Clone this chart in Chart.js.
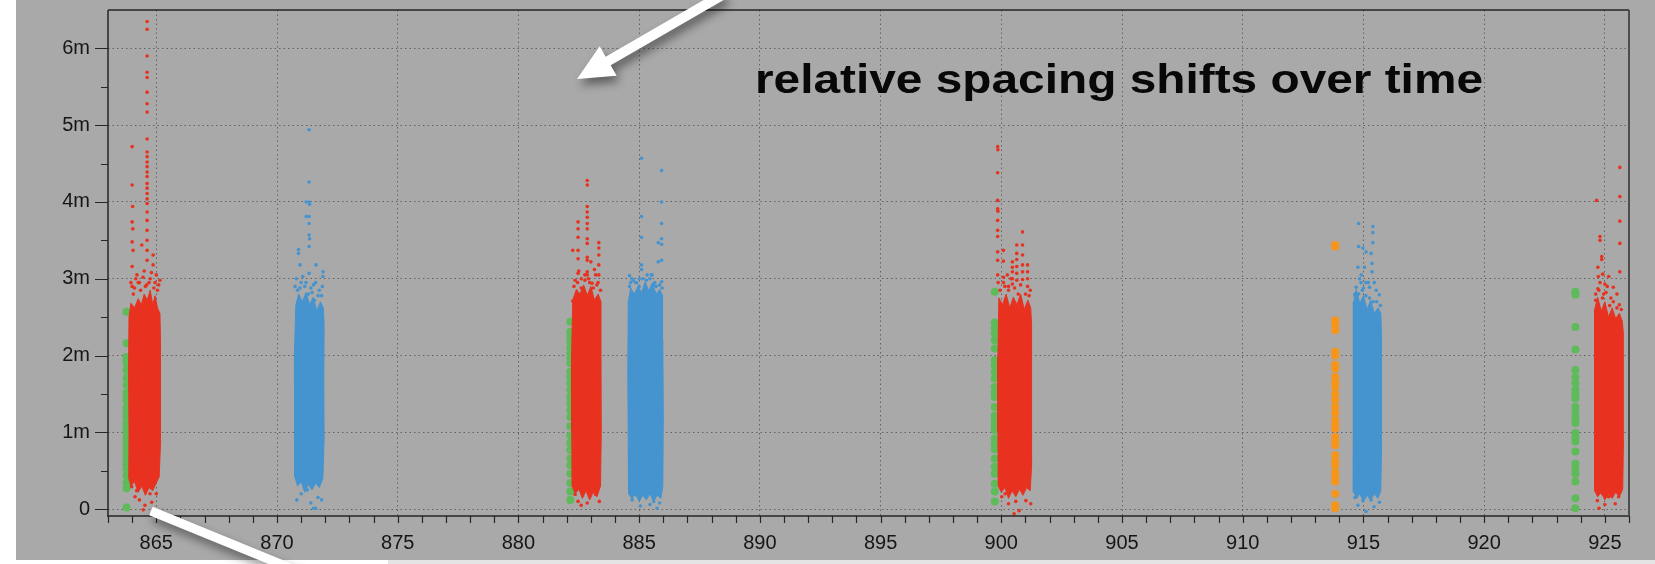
<!DOCTYPE html>
<html>
<head>
<meta charset="utf-8">
<title>relative spacing shifts over time</title>
<script src="https://cdn.jsdelivr.net/npm/chart.js@4.4.1/dist/chart.umd.min.js"></script>
<style>
  html, body { margin: 0; padding: 0; background: #fff; }
  #wrap { width: 1655px; height: 564px; }
</style>
</head>
<body>
<div id="wrap"><canvas id="plot" width="1655" height="564"></canvas></div>
<script>
// axis setup
var xMin = 863, xMax = 926;
var yMin = -0.09, yMax = 6.5;
var titleText = 'relative spacing shifts over time';

// dense cores of each burst, outline [x, y(m)]
var redA_core = [[863.86,0.40],[863.95,0.30],[864.10,0.36],[864.25,0.22],[864.40,0.30],[864.55,0.18],[864.70,0.28],[864.85,0.24],[865.00,0.34],[865.12,0.42],[865.18,0.9],[865.17,1.6],[865.18,2.2],[865.15,2.55],[865.05,2.62],[864.95,2.78],[864.85,2.66],[864.75,2.85],[864.62,2.72],[864.50,2.80],[864.38,2.66],[864.25,2.74],[864.10,2.62],[863.95,2.68],[863.87,2.5],[863.85,1.8],[863.87,1.0]];
var blueA_core = [[870.74,0.42],[870.85,0.30],[871.0,0.36],[871.15,0.22],[871.3,0.32],[871.45,0.25],[871.6,0.34],[871.75,0.28],[871.9,0.40],[871.95,0.9],[871.94,1.7],[871.95,2.4],[871.92,2.62],[871.8,2.7],[871.65,2.58],[871.5,2.76],[871.35,2.66],[871.2,2.82],[871.05,2.7],[870.9,2.8],[870.78,2.66],[870.72,2.0],[870.73,1.0]];
var redB_core = [[882.22,0.30],[882.35,0.20],[882.5,0.26],[882.65,0.14],[882.8,0.24],[882.95,0.12],[883.1,0.22],[883.25,0.16],[883.4,0.30],[883.43,1.0],[883.42,2.0],[883.42,2.7],[883.3,2.8],[883.15,2.72],[883.0,2.9],[882.85,2.78],[882.7,2.92],[882.55,2.8],[882.4,2.86],[882.25,2.72],[882.2,2.0],[882.21,1.0]];
var blueB_core = [[884.56,0.20],[884.7,0.14],[884.85,0.20],[885.0,0.10],[885.15,0.18],[885.3,0.12],[885.45,0.2],[885.6,0.1],[885.75,0.18],[885.9,0.14],[885.98,0.3],[886.0,1.2],[885.98,2.2],[885.97,2.78],[885.85,2.86],[885.7,2.8],[885.55,2.95],[885.4,2.84],[885.25,2.96],[885.1,2.82],[884.95,2.9],[884.8,2.8],[884.65,2.88],[884.55,2.7],[884.53,1.8],[884.55,0.8]];
var redC_core = [[899.87,0.30],[900.0,0.22],[900.15,0.28],[900.3,0.14],[900.45,0.24],[900.6,0.16],[900.75,0.26],[900.9,0.18],[901.05,0.28],[901.2,0.24],[901.26,0.6],[901.25,1.5],[901.26,2.4],[901.22,2.62],[901.1,2.72],[900.95,2.6],[900.8,2.8],[900.65,2.66],[900.5,2.76],[900.35,2.62],[900.2,2.8],[900.05,2.66],[899.9,2.75],[899.86,2.0],[899.86,1.0]];
var blueC_core = [[914.6,0.22],[914.72,0.14],[914.85,0.2],[915.0,0.1],[915.15,0.18],[915.3,0.12],[915.45,0.2],[915.6,0.14],[915.72,0.24],[915.75,0.8],[915.74,1.6],[915.75,2.3],[915.72,2.55],[915.6,2.62],[915.45,2.55],[915.3,2.72],[915.15,2.6],[915.0,2.78],[914.85,2.68],[914.7,2.86],[914.6,2.7],[914.57,2.0],[914.58,1.0]];
var redD_core = [[924.58,0.24],[924.7,0.16],[924.85,0.22],[925.0,0.12],[925.15,0.2],[925.3,0.14],[925.45,0.22],[925.6,0.16],[925.74,0.26],[925.77,0.9],[925.76,1.6],[925.77,2.3],[925.72,2.45],[925.6,2.55],[925.45,2.48],[925.3,2.62],[925.15,2.5],[925.0,2.7],[924.85,2.58],[924.7,2.76],[924.58,2.6],[924.57,1.8],[924.58,0.9]];

// sparse points around the cores [x, y(m)]
var redA_pts = [[864.62,6.35],[864.62,6.25],[864.62,5.90],[864.62,5.69],[864.62,5.62],[864.62,5.43],[864.62,5.28],[864.62,5.17],[864.62,4.82],[864.62,4.65],[864.62,4.59],[864.62,4.52],[864.62,4.46],[864.62,4.39],[864.62,4.33],[864.62,4.24],[864.62,4.18],[864.62,4.11],[864.62,4.04],[864.62,3.98],[864.62,3.87],[864.62,3.76],[864.62,3.63],[864.62,3.50],[864.62,3.37],[864.62,3.24],
  [864.0,4.72],[864.0,4.22],[864.02,3.94],[864.0,3.74],[864.03,3.65],[864.0,3.48],[864.04,3.37],[864.0,3.16],
  [864.4,3.44],[864.87,3.31],[864.87,3.18],[865.15,2.98],[864.2,3.05],[864.3,2.95],[864.5,3.1],[864.75,3.0],[864.95,2.95],[865.05,2.85],[863.95,2.95],[864.1,2.88],[864.6,2.92],
  [864.0,2.9],[864.15,3.0],[864.35,2.85],[864.45,3.02],[864.55,2.9],[864.7,2.95],[864.8,3.08],[864.9,2.88],[865.1,2.92],[864.25,2.95],[865.0,3.05],[864.05,2.8],
  [863.98,0.29],[864.12,0.16],[864.46,-0.01],[864.53,0.05],[864.81,0.09],[864.19,0.24],[864.74,0.20],[864.3,0.12],[865.0,0.2]];
var blueA_pts = [[871.33,4.94],[871.33,4.26],[871.33,4.0],[871.35,3.97],[871.33,3.81],[871.33,3.72],[871.33,3.57],[871.35,3.52],[871.33,3.42],
  [871.21,4.0],[871.21,3.81],[870.89,3.38],[870.89,3.33],[870.95,3.18],[871.62,3.18],[871.91,3.09],[871.9,3.03],[871.33,3.07],[871.07,3.03],[871.51,2.92],[870.75,2.9],[870.8,3.0],[871.75,2.85],[871.2,2.95],[871.4,2.88],[871.85,2.78],
  [870.85,2.85],[871.0,2.95],[871.15,2.9],[871.3,2.8],[871.45,2.82],[871.6,2.95],[871.7,2.78],[871.88,2.9],[870.95,2.88],[871.55,2.72],
  [870.82,0.12],[871.51,0.01],[871.6,0.01],[871.0,0.2],[871.7,0.15],[871.25,0.25],[871.85,0.12],[871.4,0.08]];
var redB_pts = [[882.85,4.28],[882.85,4.22],[882.85,3.94],[882.85,3.87],[882.85,3.80],[882.85,3.72],[882.85,3.65],[882.85,3.52],[882.85,3.46],[882.85,3.28],[882.85,3.24],[882.85,3.09],[882.85,3.05],
  [882.47,3.74],[882.47,3.65],[882.47,3.54],[882.47,3.37],[882.47,3.26],[882.47,3.07],
  [883.33,3.47],[883.33,3.40],[883.33,3.31],[883.33,3.18],[883.33,3.05],
  [882.25,3.37],[883.0,3.22],[883.15,3.12],[882.25,2.71],[883.05,2.94],[882.6,3.0],[882.35,2.98],[882.75,3.05],[883.3,2.95],[882.9,3.0],
  [882.3,2.9],[882.45,2.95],[882.6,2.88],[882.75,2.98],[882.95,2.95],[883.1,2.88],[883.25,2.92],[883.4,2.85],[882.5,3.1],[883.2,3.05],
  [882.47,0.10],[882.85,0.08],[883.2,0.19],[882.35,0.19],[883.05,0.24],[882.6,0.05],[883.35,0.1]];
var blueB_pts = [[885.1,4.57],[885.1,3.81],[885.1,3.54],[885.1,3.18],[885.1,3.12],
  [885.93,4.41],[885.93,4.0],[885.93,3.72],[885.93,3.52],[885.93,3.45],[885.93,3.24],[885.93,2.96],
  [885.79,3.47],[885.79,3.22],[884.6,3.04],[884.75,2.98],[885.33,3.05],[885.54,3.05],[885.6,2.92],[885.25,2.9],[884.9,2.95],[885.0,3.0],[885.45,3.0],[885.7,2.9],[884.65,2.95],
  [884.6,2.9],[884.7,3.0],[884.85,2.95],[885.0,2.9],[885.15,3.0],[885.3,2.98],[885.5,3.05],[885.65,2.95],[885.85,2.92],[885.95,2.88],
  [884.71,0.12],[885.6,0.1],[885.74,0.01],[885.3,0.16],[884.9,0.18],[885.05,0.04],[885.85,0.08],[885.45,0.06]];
var redC_pts = [[899.85,4.72],[899.86,4.68],[899.85,4.38],[899.85,4.02],[899.85,3.91],[899.86,3.88],[899.85,3.76],[899.85,3.63],[899.85,3.55],[899.85,3.35],[899.85,3.24],[899.85,3.05],[899.87,2.95],
  [900.09,3.37],[900.09,3.23],[900.09,3.02],[900.09,2.95],
  [900.46,3.22],[900.46,3.15],[900.46,3.09],[900.46,3.0],[900.46,2.93],
  [900.64,3.44],[900.64,3.33],[900.64,3.25],[900.64,3.16],[900.64,3.07],[900.64,2.98],
  [900.88,3.61],[900.88,3.44],[900.88,3.31],[900.88,3.18],[900.88,3.09],[900.88,2.99],
  [901.09,3.18],[901.09,3.09],[901.09,3.0],[901.09,2.9],[901.2,2.85],[900.3,2.9],
  [899.95,2.85],[900.15,2.9],[900.3,2.85],[900.55,2.88],[900.7,2.8],[900.8,2.92],[901.0,2.8],[901.15,2.78],[900.4,3.0],[900.25,3.05],
  [900.02,0.16],[900.3,0.07],[900.53,-0.06],[900.74,-0.02],[901.02,0.11],[900.16,0.2],[901.22,0.07],[900.6,0.1]];
var blueC_pts = [[914.80,3.72],[915.39,3.68],[915.39,3.6],[915.39,3.47],[914.80,3.42],[914.98,3.40],[915.11,3.35],[915.32,3.33],[914.77,3.15],[915.04,3.15],[915.36,3.2],[915.36,3.09],[914.91,3.05],[915.53,2.85],[915.66,2.79],[915.25,2.89],[914.84,3.0],[914.70,2.89],[915.1,2.95],[915.45,2.95],[914.65,2.8],[915.0,2.88],
  [914.65,2.78],[914.8,2.8],[914.95,2.85],[915.1,2.78],[915.25,2.75],[915.4,2.7],[915.55,2.7],[915.7,2.65],[915.2,2.95],[914.9,2.95],
  [914.77,0.05],[915.11,-0.03],[915.44,0.03],[915.66,0.09],[914.98,0.11],[915.32,0.12],[914.65,0.15]];
var redD_pts = [[925.62,4.45],[925.62,4.07],[925.62,3.75],[925.62,3.46],[925.62,3.09],
  [924.66,4.02],[924.8,3.55],[924.8,3.5],[924.87,3.29],[924.87,3.25],[924.71,3.15],[924.73,3.03],[924.91,3.06],[925.16,3.03],[925.0,2.93],[925.35,2.89],[924.71,2.87],[925.5,2.8],[925.6,2.66],[924.95,2.8],[925.25,2.75],[924.62,2.72],
  [924.62,2.8],[924.75,2.85],[924.9,2.75],[925.05,2.82],[925.2,2.65],[925.35,2.7],[925.5,2.62],[925.68,2.6],[925.1,2.9],[924.8,2.95],
  [924.69,0.11],[924.76,0.01],[925.16,0.16],[925.43,0.07],[924.91,0.2],[925.57,0.16],[925.0,0.06]];

// single-column series: x position and y values (m)
var greenA_x = 863.77;
var greenA_y = [2.57,2.16,1.98,1.94,1.90,1.81,1.71,1.62,1.52,1.46,1.42,1.33,1.26,1.20,1.12,1.06,1.03,1.00,0.94,0.88,0.82,0.76,0.70,0.64,0.58,0.53,0.44,0.35,0.27,0.02];
var greenB_x = 882.15;
var greenB_y = [2.44,2.31,2.25,2.18,2.10,2.03,1.96,1.90,1.79,1.72,1.64,1.55,1.46,1.38,1.29,1.20,1.08,0.96,0.86,0.77,0.66,0.57,0.46,0.34,0.23,0.12];
var greenC_x = 899.73;
var greenC_y = [2.83,2.43,2.36,2.29,2.20,2.09,1.94,1.87,1.79,1.70,1.59,1.52,1.46,1.33,1.22,1.15,1.09,1.03,0.92,0.85,0.78,0.66,0.55,0.46,0.33,0.23,0.10];
var greenD_x = 923.78;
var greenD_y = [2.83,2.79,2.37,2.08,1.81,1.72,1.64,1.55,1.49,1.44,1.33,1.25,1.18,1.12,0.99,0.93,0.88,0.75,0.59,0.53,0.46,0.36,0.14,0.01];
var orange_x = 913.83;
var orange_y = [3.44,3.42,2.46,2.40,2.33,2.05,2.0,1.88,1.83,1.72,1.65,1.59,1.5,1.42,1.33,1.25,1.16,1.1,1.05,0.94,0.88,0.83,0.70,0.62,0.57,0.48,0.42,0.36,0.20,0.05,0.01];

var RED = '#e8321f', BLUE = '#4594d0', GREEN = '#5dbb5a', ORANGE = '#f7951a';
var BG = '#a9a9a9', GRID = '#626262', AXIS = '#262626', TEXT = '#161616';

function pts(list) {
    return list.map(function (p) { return {x: p[0], y: p[1]}; });
}
function column(x, ys) {
    return ys.map(function (y) { return {x: x, y: y}; });
}
function shape(list) {
    // close the outline
    return pts(list.concat([list[0]]));
}

function coreSet(list, color) {
    return {data: shape(list), showLine: true, fill: 'shape', tension: 0,
        backgroundColor: color, borderColor: color, borderWidth: 1, pointRadius: 0};
}
function dotSet(data, color, r) {
    return {data: data, backgroundColor: color, borderColor: color, borderWidth: 0,
        pointRadius: r, pointHoverRadius: r};
}

var datasets = [
    coreSet(redA_core, RED), dotSet(pts(redA_pts), RED, 1.8),
    coreSet(blueA_core, BLUE), dotSet(pts(blueA_pts), BLUE, 1.8),
    coreSet(redB_core, RED), dotSet(pts(redB_pts), RED, 1.8),
    coreSet(blueB_core, BLUE), dotSet(pts(blueB_pts), BLUE, 1.8),
    coreSet(redC_core, RED), dotSet(pts(redC_pts), RED, 1.8),
    coreSet(blueC_core, BLUE), dotSet(pts(blueC_pts), BLUE, 1.8),
    coreSet(redD_core, RED), dotSet(pts(redD_pts), RED, 1.8),
    dotSet(column(greenA_x, greenA_y), GREEN, 4),
    dotSet(column(greenB_x, greenB_y), GREEN, 4),
    dotSet(column(greenC_x, greenC_y), GREEN, 4),
    dotSet(column(greenD_x, greenD_y), GREEN, 4),
    dotSet(column(orange_x, orange_y), ORANGE, 4)
];

// white arrow drawn as one polygon, with a soft shadow
function arrow(ctx, tipX, tipY, tailX, tailY, shaftW, headLen, headW) {
    var dx = tailX - tipX, dy = tailY - tipY;
    var len = Math.sqrt(dx * dx + dy * dy);
    var ux = dx / len, uy = dy / len;
    var nx = -uy, ny = ux;
    var bx = tipX + ux * headLen, by = tipY + uy * headLen;
    ctx.beginPath();
    if (headLen > 0) {
        ctx.moveTo(tailX + nx * shaftW / 2, tailY + ny * shaftW / 2);
        ctx.lineTo(bx + nx * shaftW / 2, by + ny * shaftW / 2);
        ctx.lineTo(bx + nx * headW / 2, by + ny * headW / 2);
        ctx.lineTo(tipX, tipY);
        ctx.lineTo(bx - nx * headW / 2, by - ny * headW / 2);
        ctx.lineTo(bx - nx * shaftW / 2, by - ny * shaftW / 2);
        ctx.lineTo(tailX - nx * shaftW / 2, tailY - ny * shaftW / 2);
    } else {
        ctx.moveTo(tailX + nx * shaftW / 2, tailY + ny * shaftW / 2);
        ctx.lineTo(tipX + nx * shaftW / 2, tipY + ny * shaftW / 2);
        ctx.lineTo(tipX - nx * shaftW / 2, tipY - ny * shaftW / 2);
        ctx.lineTo(tailX - nx * shaftW / 2, tailY - ny * shaftW / 2);
    }
    ctx.closePath();
    ctx.save();
    ctx.shadowColor = 'rgba(0,0,0,0.45)';
    ctx.shadowBlur = 10;
    ctx.shadowOffsetX = 3;
    ctx.shadowOffsetY = 6;
    ctx.fillStyle = '#ffffff';
    ctx.fill();
    ctx.restore();
}

var backdrop = {
    id: 'backdrop',
    beforeDraw: function (chart) {
        var ctx = chart.ctx;
        ctx.save();
        ctx.fillStyle = '#ffffff';
        ctx.fillRect(0, 0, chart.width, chart.height);
        ctx.fillStyle = BG;
        ctx.fillRect(16, 0, chart.width - 16, 560);
        ctx.fillStyle = '#e4e4e4';
        ctx.fillRect(388, 560, chart.width - 388, 4);
        ctx.restore();
    }
};

var frame = {
    id: 'frame',
    afterDraw: function (chart) {
        var ctx = chart.ctx;
        var a = chart.chartArea;
        var xs = chart.scales.x, ys = chart.scales.y;
        ctx.save();
        ctx.lineWidth = 1.5;
        ctx.strokeStyle = AXIS;
        ctx.beginPath();
        ctx.moveTo(a.left, a.top); ctx.lineTo(a.right, a.top);
        ctx.moveTo(a.left, a.top); ctx.lineTo(a.left, a.bottom);
        ctx.moveTo(a.left - 1, a.bottom); ctx.lineTo(a.right, a.bottom);
        ctx.stroke();
        ctx.strokeStyle = '#4d4d4d';
        ctx.lineWidth = 2;
        ctx.beginPath();
        ctx.moveTo(a.right, a.top); ctx.lineTo(a.right, a.bottom);
        ctx.stroke();

        // tick marks, major and minor
        ctx.strokeStyle = AXIS;
        ctx.lineWidth = 1.2;
        ctx.beginPath();
        for (var v = 0; v <= 6.4; v += 0.5) {
            var py = Math.round(ys.getPixelForValue(v)) + 0.5;
            var len = (v % 1 === 0) ? 13 : 7;
            ctx.moveTo(a.left - len, py); ctx.lineTo(a.left, py);
        }
        for (var k = xMin; k <= xMax; k++) {
            var px = Math.round(xs.getPixelForValue(k)) + 0.5;
            ctx.moveTo(px, a.bottom); ctx.lineTo(px, a.bottom + 7);
        }
        ctx.stroke();

        // annotation text
        ctx.fillStyle = '#080808';
        ctx.font = 'bold 41px "Liberation Sans", Arial, sans-serif';
        ctx.textBaseline = 'alphabetic';
        ctx.textAlign = 'left';
        var w = ctx.measureText(titleText).width;
        ctx.translate(755, 93);
        ctx.scale(728 / w, 1);
        ctx.fillText(titleText, 0, 0);
        ctx.restore();

        arrow(ctx, 577, 79, 724, -6, 10, 36, 34);
        arrow(ctx, 151, 511, 300, 572, 9, 0, 0);
    }
};

var ctx = document.getElementById('plot').getContext('2d');
var chart = new Chart(ctx, {
    type: 'scatter',
    data: {datasets: datasets},
    options: {
        responsive: false,
        animation: false,
        devicePixelRatio: 1,
        layout: {padding: {top: 10, right: 26, left: 0, bottom: 0}},
        plugins: {legend: {display: false}, tooltip: {enabled: false}},
        scales: {
            x: {
                type: 'linear',
                min: xMin,
                max: xMax,
                afterFit: function (s) {
                    s.height = 48;
                    s.paddingLeft = 0; s.paddingRight = 0;
                },
                border: {display: false, dash: [1.5, 3]},
                grid: {
                    drawTicks: false,
                    lineWidth: 1,
                    color: function (c) { return c.tick && c.tick.value % 5 === 0 ? GRID : 'rgba(0,0,0,0)'; }
                },
                ticks: {
                    stepSize: 1,
                    autoSkip: false,
                    maxRotation: 0,
                    includeBounds: false,
                    padding: 15,
                    color: TEXT,
                    font: {family: '"Liberation Sans", Arial, sans-serif', size: 20},
                    callback: function (v) { return v % 5 === 0 ? String(v) : ''; }
                }
            },
            y: {
                min: yMin,
                max: yMax,
                afterFit: function (s) {
                    s.width = 108;
                    s.paddingTop = 0; s.paddingBottom = 0;
                },
                border: {display: false, dash: [1.5, 3]},
                grid: {
                    drawTicks: false,
                    lineWidth: 1,
                    color: function (c) { return c.tick && Number.isInteger(c.tick.value) ? GRID : 'rgba(0,0,0,0)'; }
                },
                ticks: {
                    stepSize: 0.5,
                    autoSkip: false,
                    includeBounds: false,
                    padding: 18,
                    color: TEXT,
                    font: {family: '"Liberation Sans", Arial, sans-serif', size: 20},
                    callback: function (v) {
                        if (!Number.isInteger(v)) return '';
                        return v === 0 ? '0' : v + 'm';
                    }
                }
            }
        }
    },
    plugins: [backdrop, frame]
});
</script>
</body>
</html>
